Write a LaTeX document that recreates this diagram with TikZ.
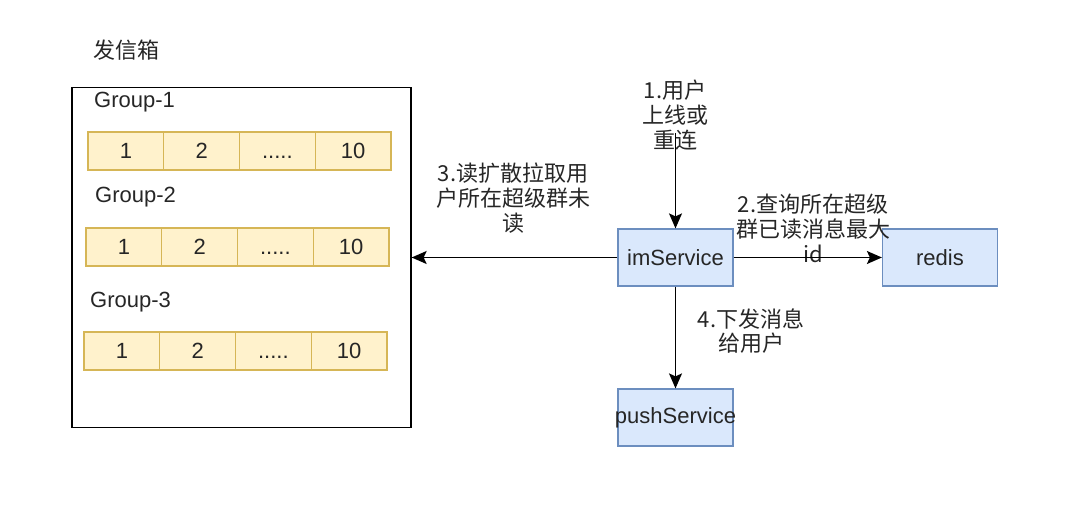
\documentclass[tikz,border=0pt]{standalone}
\usepackage{fontspec}
\setmainfont{Liberation Sans}
\newfontfamily\cjk{Noto Sans CJK SC}
\usetikzlibrary{arrows.meta}
\definecolor{cellfill}{HTML}{FFF2CC}
\definecolor{celldraw}{HTML}{D6B656}
\definecolor{svcfill}{HTML}{DAE8FC}
\definecolor{svcdraw}{HTML}{6C8EBF}
\colorlet{txt}{black!85}
\newcommand\celldots{.....}
\tikzset{
	cell/.style={rectangle,fill=cellfill,draw=celldraw,line width=1.2pt,inner sep=0pt,minimum width=75.75pt,minimum height=38pt,text height=15.5pt,text depth=0pt,text=txt,font=\fontsize{22}{25}\selectfont},
	svc/.style={rectangle,fill=svcfill,draw=svcdraw,line width=1.2pt,inner sep=0pt,minimum width=115pt,minimum height=57pt,text=txt,font=\fontsize{22}{25}\selectfont},
	grp/.style={anchor=west,inner sep=0pt,text=txt,font=\fontsize{22}{25}\selectfont},
	lbl/.style={align=center,inner sep=0pt,text=txt,font=\cjk\fontsize{22}{25}\selectfont},
	conn/.style={line width=1.6pt,->},
	>={Stealth[length=15pt,width=13pt,inset=3pt]},
	}
\begin{document}
\begin{tikzpicture}[x=1pt,y=-1pt]
\useasboundingbox (0,0) rectangle (1080,510);

\node (title) at (126,50) [lbl] {发信箱};
\node (outbox) at (241.5,257.5) [draw,line width=1.3pt,minimum width=339pt,minimum height=340pt] {};

\node (g1) at (94,102) [grp] {Group-1};
\node (g2) at (95,197) [grp] {Group-2};
\node (g3) at (90,302) [grp] {Group-3};
  \foreach \r/\y/\x in {1/151/88,2/247/86,3/351/84}
  \foreach \i/\v in {1/1,2/2,3/\celldots,4/10}
  \node (g\r c\i) at (\x+75.75*\i-37.875,\y) [cell] {\v};

\node (ims) at (675.5,257.5) [svc] {imService};
\node (redis) at (940,257.5) [svc] {redis};
\node (push) at (675.5,417.5) [svc] {\makebox[0pt]{pushService}};
\coordinate (u1) at (675.5,133);

\node (l1) at (675,115) [lbl] {1.用户\\上线或\\重连};
\node (l2) at (813,228) [lbl] {2.查询所在超级\\群已读消息最大\\id};
\node (l3) at (513,198) [lbl] {3.读扩散拉取用\\户所在超级群未\\读};
\node (l4) at (751,331) [lbl,font=\cjk\fontsize{22}{24}\selectfont] {4.下发消息\\给用户};

 \draw[conn] (u1) -- (ims);
 \draw[conn] (ims) -- (redis);
 \draw[conn] (ims) -- (outbox);
 \draw[conn] (ims) -- (push);
\end{tikzpicture}
\end{document}
